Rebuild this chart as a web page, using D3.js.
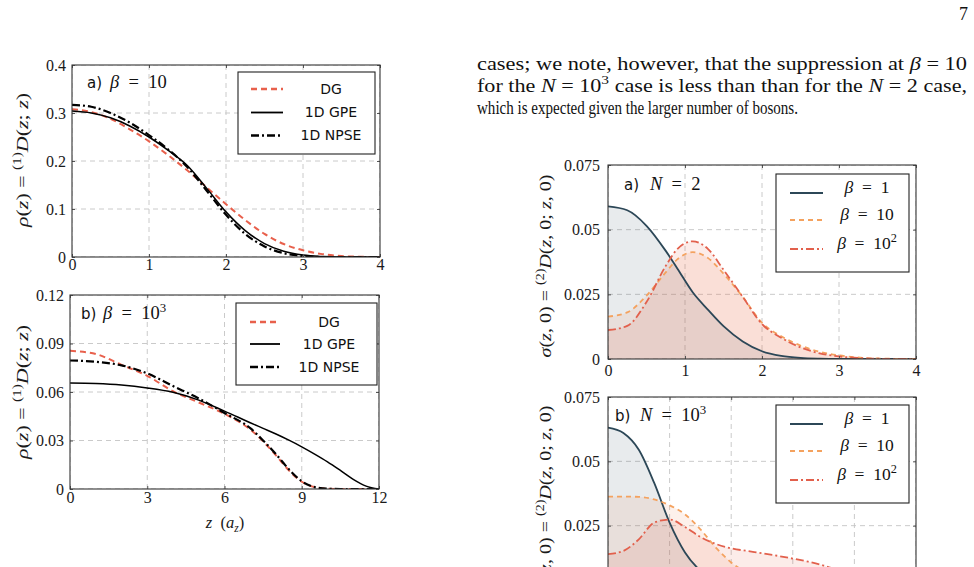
<!DOCTYPE html>
<html><head><meta charset="utf-8">
<script src="https://cdn.jsdelivr.net/npm/d3@7"></script>
<style>html,body{margin:0;padding:0;background:#fff;overflow:hidden}</style>
</head><body>
<svg id="page" width="974" height="567"></svg>
<script>
// ---------------- data ----------------
// Panel a) beta = 10 (left top)
const zA = [0,0.25,0.5,0.75,1,1.25,1.5,1.75,2,2.25,2.5,2.75,3,3.25,3.5,3.75,4];
const dgA   = [0.308,0.302,0.288,0.266,0.241,0.212,0.180,0.145,0.110,0.077,0.048,0.027,0.014,0.006,0.002,0.0005,0];
const gpeA  = [0.304,0.300,0.290,0.273,0.250,0.222,0.190,0.143,0.094,0.055,0.028,0.012,0.004,0.001,0,0,0];
const npseA = [0.317,0.313,0.300,0.280,0.254,0.224,0.187,0.138,0.088,0.048,0.022,0.008,0.002,0,0,0,0];
const xTicksA = [0,1,2,3,4];
const xLabelsA = ["0","1","2","3","4"];
const yTicksA = [0,0.1,0.2,0.3,0.4];
const yLabelsA = ["0","0.1","0.2","0.3","0.4"];

// Panel b) beta = 10^3 (left bottom)
const zB = [0,1,2,3,4,5,6,7,7.5,8,8.5,9,9.5,10,10.5,11,11.5,12];
const dgB   = [0.0855,0.0835,0.0768,0.0700,0.0605,0.0535,0.0465,0.0368,0.0295,0.0208,0.0115,0.0045,0.0012,0.0002,0,0,0,0];
const gpeB  = [0.0655,0.0652,0.0643,0.0625,0.0598,0.0550,0.0482,0.0410,0.0375,0.0340,0.0302,0.0261,0.0216,0.0168,0.0115,0.0060,0.0018,0];
const npseB = [0.0795,0.0787,0.0765,0.0715,0.0637,0.0560,0.0470,0.0376,0.0300,0.0215,0.0122,0.0048,0.0012,0.0002,0,0,0,0];
const xTicksB = [0,3,6,9,12];
const xLabelsB = ["0","3","6","9","12"];
const yTicksB = [0,0.03,0.06,0.09,0.12];
const yLabelsB = ["0","0.03","0.06","0.09","0.12"];

// Panel a) N = 2 (right top)
const zC = [0,0.25,0.5,0.75,0.9,1.1,1.3,1.5,1.75,2,2.25,2.5,2.75,3,3.25,3.5,4];
const b1C   = [0.0590,0.0575,0.0515,0.0418,0.0350,0.0258,0.0190,0.0127,0.0068,0.0030,0.0012,0.0004,0.0001,0,0,0,0];
const b10C  = [0.0164,0.0180,0.0245,0.0335,0.0385,0.0413,0.0390,0.0330,0.0240,0.0140,0.0088,0.0052,0.0028,0.0014,0.0006,0.0002,0];
const b100C = [0.0112,0.0128,0.0220,0.0360,0.0425,0.0455,0.0425,0.0345,0.0240,0.0135,0.0082,0.0045,0.0022,0.0010,0.0004,0.0001,0];
const xTicksC = [0,1,2,3,4];
const xLabelsC = ["0","1","2","3","4"];
const yTicksC = [0,0.025,0.05,0.075];
const yLabelsC = ["0","0.025","0.05","0.075"];

// Panel b) N = 10^3 (right bottom) -- its x axis lies below the visible page
const zD = [0,0.25,0.5,0.75,1,1.25,1.5,1.75,2,2.25,2.5,2.75,3,3.25,3.5,3.75,4,4.25,4.5,4.75,5];
const b1D   = [0.0631,0.0610,0.0545,0.0416,0.0262,0.0146,0.0075,0.0035,0.0015,0.0006,0.0002,0,0,0,0,0,0,0,0,0,0];
const b10D  = [0.0363,0.0363,0.0362,0.0352,0.0329,0.0294,0.0236,0.0165,0.0107,0.0068,0.0042,0.0025,0.0014,0.0008,0.0004,0.0002,0,0,0,0,0];
const b100D = [0.0139,0.0152,0.0197,0.0262,0.0274,0.0245,0.0206,0.0179,0.0162,0.0152,0.0143,0.0133,0.0122,0.0110,0.0095,0.0075,0.0050,0.0030,0.0015,0.0006,0.0002];
const xTicksD = [0,1,2,3,4,5];
const xLabelsD = ["","","","","",""];
const yTicksD = [0,0.025,0.05,0.075];
const yLabelsD = ["","0.025","0.05","0.075"];

const legendLeft = ["DG","1D GPE","1D NPSE"];

// ---------------- rendering ----------------
const SERIF = "'Liberation Serif','DejaVu Serif',serif";
const SANS = "'DejaVu Sans','Liberation Sans',sans-serif";
const svg = d3.select('#page');
svg.append('rect').attr('width',974).attr('height',567).attr('fill','#fff');

function rich(sel, segs, size) {
  let shift = 0;
  segs.forEach(([t, s]) => {
    const ts = sel.append('tspan').text(t);
    let target = 0;
    if (s === 'sup') target = -0.4 * size; else if (s === 'sub') target = 0.25 * size;
    ts.attr('dy', target - shift); shift = target;
    if (s === 'i' || s === 'sub') ts.attr('font-style', 'italic');
    if (s === 'sup' || s === 'sub') ts.attr('font-size', (size * 0.7).toFixed(1));
    if (s === 'sans') ts.attr('font-family', SANS);
  });
  return sel;
}

const STY = {
  dg:   {stroke:'#e8604c', w:2,   dash:'6,4'},
  gpe:  {stroke:'#000',    w:1.5, dash:null},
  npse: {stroke:'#000',    w:2.2, dash:'8,3,2,3'},
  b1:   {stroke:'#2c4757', w:1.8, dash:null, fill:'#2c4757'},
  b10:  {stroke:'#f4a25f', w:1.8, dash:'5,4', fill:'#f08a5d'},
  b100: {stroke:'#e2604c', w:1.8, dash:'8,3,2,3', fill:'#e8604c'}
};

let clipId = 0;
function panel(cfg) {
  const g = svg.append('g');
  const x = d3.scaleLinear().domain(cfg.xDom).range([cfg.x0, cfg.x1]);
  const y = d3.scaleLinear().domain(cfg.yDom).range([cfg.y1, cfg.y0]);
  const id = 'clip' + (clipId++);
  svg.append('clipPath').attr('id', id).append('rect')
    .attr('x', cfg.x0).attr('y', cfg.y0).attr('width', cfg.x1 - cfg.x0).attr('height', cfg.y1 - cfg.y0);
  const inner = g.append('g').attr('clip-path', `url(#${id})`);
  // grid
  inner.selectAll('.gx').data(cfg.xTicks).join('line')
    .attr('x1', d => x(d)).attr('x2', d => x(d)).attr('y1', cfg.y0).attr('y2', cfg.y1)
    .attr('stroke', '#c4c4c4').attr('stroke-width', 0.9).attr('stroke-dasharray', '5,4');
  inner.selectAll('.gy').data(cfg.yTicks).join('line')
    .attr('y1', d => y(d)).attr('y2', d => y(d)).attr('x1', cfg.x0).attr('x2', cfg.x1)
    .attr('stroke', '#c4c4c4').attr('stroke-width', 0.9).attr('stroke-dasharray', '5,4');
  // fills
  cfg.series.filter(s => STY[s.key].fill).forEach(s => {
    const area = d3.area().x((d, i) => x(cfg.z[i])).y0(y(0)).y1(d => y(d)).curve(d3.curveMonotoneX);
    inner.append('path').datum(s.values).attr('d', area)
      .attr('fill', STY[s.key].fill).attr('fill-opacity', s.key === 'b1' ? 0.11 : 0.12);
  });
  // lines
  cfg.series.forEach(s => {
    const st = STY[s.key];
    const line = d3.line().x((d, i) => x(cfg.z[i])).y(d => y(d)).curve(d3.curveMonotoneX);
    inner.append('path').datum(s.values).attr('d', line).attr('fill', 'none')
      .attr('stroke', st.stroke).attr('stroke-width', st.w)
      .attr('stroke-dasharray', st.dash).attr('stroke-linejoin', 'round');
  });
  // axes
  const axFont = ax => ax.attr('font-family', SERIF).attr('font-size', 16)
    .call(a => a.select('.domain').remove())
    .call(a => a.selectAll('.tick line').attr('stroke', '#555'))
    .call(a => a.selectAll('.tick text').attr('fill', '#1a1a1a'));
  g.append('g').attr('transform', `translate(0,${cfg.y1})`)
    .call(d3.axisBottom(x).tickValues(cfg.xTicks).tickFormat((d, i) => cfg.xLabels[i]).tickSizeInner(-3).tickSizeOuter(0).tickPadding(cfg.xPad))
    .call(axFont);
  g.append('g').attr('transform', `translate(${cfg.x0},0)`)
    .call(d3.axisLeft(y).tickValues(cfg.yTicks).tickFormat((d, i) => cfg.yLabels[i]).tickSizeInner(-3).tickSizeOuter(0).tickPadding(cfg.yPad))
    .call(axFont);
  g.append('g').attr('transform', `translate(0,${cfg.y0})`)
    .call(d3.axisTop(x).tickValues(cfg.xTicks).tickFormat('').tickSizeInner(-3).tickSizeOuter(0)).call(axFont);
  g.append('g').attr('transform', `translate(${cfg.x1},0)`)
    .call(d3.axisRight(y).tickValues(cfg.yTicks).tickFormat('').tickSizeInner(-3).tickSizeOuter(0)).call(axFont);
  // border
  g.append('rect').attr('x', cfg.x0).attr('y', cfg.y0).attr('width', cfg.x1 - cfg.x0).attr('height', cfg.y1 - cfg.y0)
    .attr('fill', 'none').attr('stroke', '#333').attr('stroke-width', 1.1);
  // panel label
  g.append('text').attr('x', cfg.lab.x).attr('y', cfg.lab.y).attr('font-family', SANS).attr('font-size', 15)
    .attr('fill', '#111').text(cfg.lab.tag);
  rich(g.append('text').attr('x', cfg.lab.mx).attr('y', cfg.lab.y).attr('font-family', SERIF).attr('font-size', 18.5)
    .attr('fill', '#111'), cfg.lab.math, 18.5);
  // y title
  rich(g.append('text').attr('transform', `translate(${cfg.yt.x},${cfg.yt.y}) rotate(-90)`)
    .attr('text-anchor', 'middle').attr('font-family', SERIF).attr('font-size', 17).attr('fill', '#1a1a1a')
    .attr('textLength', cfg.yt.w).attr('lengthAdjust', 'spacingAndGlyphs'), cfg.yt.segs, 17);
  // legend
  const L = cfg.leg;
  const lg = g.append('g');
  lg.append('rect').attr('x', L.x0).attr('y', L.y0).attr('width', L.x1 - L.x0).attr('height', L.y1 - L.y0)
    .attr('fill', '#fff').attr('stroke', '#222').attr('stroke-width', 1.1);
  cfg.series.forEach((s, i) => {
    const st = STY[s.key];
    const yy = L.rows[i];
    lg.append('line').attr('x1', L.sx0).attr('x2', L.sx1).attr('y1', yy).attr('y2', yy)
      .attr('stroke', st.stroke).attr('stroke-width', st.w + 0.3).attr('stroke-dasharray', st.dash);
    const t = lg.append('text').attr('x', L.tx).attr('y', yy).attr('dy', '0.35em').attr('text-anchor', 'middle')
      .attr('fill', '#111');
    if (L.serif) { t.attr('font-family', SERIF).attr('font-size', 17.5); rich(t, s.label, 17.5); }
    else { t.attr('font-family', SANS).attr('font-size', 14).text(s.label); }
  });
  return {x, y, g};
}

const rhoLabel = [['ρ','i'],['(','n'],['z','i'],[') = ','n'],['(1)','sup'],['D','i'],['(','n'],['z','i'],['; ','n'],['z','i'],[')','n']];
const sigLabel = [['σ','i'],['(','n'],['z','i'],[', 0) = ','n'],['(2)','sup'],['D','i'],['(','n'],['z','i'],[', 0; ','n'],['z','i'],[', 0)','n']];
const betaLeg = v => v === 1 ? [['β','i'],['\u2002=\u20021','n']] : v === 10 ? [['β','i'],['\u2002=\u200210','n']] : [['β','i'],['\u2002=\u200210','n'],['2','sup']];

panel({x0:72, x1:380, y0:65, y1:257, xDom:[0,4], yDom:[0,0.4], z:zA,
  xTicks:xTicksA, xLabels:xLabelsA, yTicks:yTicksA, yLabels:yLabelsA, xPad:2, yPad:6,
  series:[{key:'dg', values:dgA, label:legendLeft[0]},{key:'gpe', values:gpeA, label:legendLeft[1]},{key:'npse', values:npseA, label:legendLeft[2]}],
  lab:{x:87, mx:110, y:88, tag:'a)', math:[['β','i'],['\u2002=\u200210','n']]},
  yt:{x:28, y:160, w:134, segs:rhoLabel},
  leg:{x0:238, x1:375, y0:72, y1:154, rows:[89,112.5,135.5], sx0:251, sx1:283, tx:331, serif:false}});

panel({x0:70, x1:379, y0:295, y1:489, xDom:[0,12], yDom:[0,0.12], z:zB,
  xTicks:xTicksB, xLabels:xLabelsB, yTicks:yTicksB, yLabels:yLabelsB, xPad:3, yPad:6,
  series:[{key:'dg', values:dgB, label:legendLeft[0]},{key:'gpe', values:gpeB, label:legendLeft[1]},{key:'npse', values:npseB, label:legendLeft[2]}],
  lab:{x:81, mx:103, y:319, tag:'b)', math:[['β','i'],['\u2002=\u200210','n'],['3','sup']]},
  yt:{x:28, y:392, w:134, segs:rhoLabel},
  leg:{x0:236, x1:377, y0:303, y1:385, rows:[322,344,367], sx0:250, sx1:280, tx:329, serif:false}});

panel({x0:608, x1:916, y0:165, y1:359, xDom:[0,4], yDom:[0,0.075], z:zC,
  xTicks:xTicksC, xLabels:xLabelsC, yTicks:yTicksC, yLabels:yLabelsC, xPad:6, yPad:8,
  series:[{key:'b1', values:b1C, label:betaLeg(1)},{key:'b10', values:b10C, label:betaLeg(10)},{key:'b100', values:b100C, label:betaLeg(100)}],
  lab:{x:624, mx:650, y:190, tag:'a)', math:[['N','i'],['\u2002=\u20022','n']]},
  yt:{x:551, y:266, w:183, segs:sigLabel},
  leg:{x0:776, x1:909, y0:174, y1:272, rows:[193,220,249], sx0:790, sx1:823, tx:867, serif:true}});

panel({x0:608, x1:916, y0:397, y1:590, xDom:[0,5], yDom:[0,0.075], z:zD,
  xTicks:xTicksD, xLabels:xLabelsD, yTicks:yTicksD, yLabels:yLabelsD, xPad:6, yPad:8,
  series:[{key:'b1', values:b1D, label:betaLeg(1)},{key:'b10', values:b10D, label:betaLeg(10)},{key:'b100', values:b100D, label:betaLeg(100)}],
  lab:{x:615, mx:640, y:421, tag:'b)', math:[['N','i'],['\u2002=\u200210','n'],['3','sup']]},
  yt:{x:551, y:497, w:183, segs:sigLabel},
  leg:{x0:776, x1:909, y0:405, y1:503, rows:[424,451,480], sx0:790, sx1:823, tx:867, serif:true}});

// x-axis title of left-bottom panel
rich(svg.append('text').attr('x', 225).attr('y', 528).attr('text-anchor', 'middle')
  .attr('font-family', SERIF).attr('font-size', 16.5).attr('fill', '#1a1a1a'),
  [['z','i'],['\u2002(','n'],['a','i'],['z','sub'],[')','n']], 16.5);

// body text
const bodyLines = [
  {y:69.5, w:490, segs:[['cases; we note, however, that the suppression at ','n'],['β','i'],[' = 10','n']]},
  {y:91.5, w:490, segs:[['for the ','n'],['N','i'],[' = 10','n'],['3','sup'],[' case is less than than for the ','n'],['N','i'],[' = 2 case,','n']]},
  {y:113.5, w:321, segs:[['which is expected given the larger number of bosons.','n']]}
];
bodyLines.forEach(L => {
  const t = svg.append('text').attr('x', 477).attr('y', L.y).attr('font-family', SERIF).attr('font-size', 18)
    .attr('fill', '#111').attr('textLength', L.w).attr('lengthAdjust', 'spacingAndGlyphs');
  rich(t, L.segs, 18);
});
svg.append('text').attr('x', 968).attr('y', 20).attr('text-anchor', 'end').attr('font-family', SERIF)
  .attr('font-size', 18).attr('fill', '#111').text('7');
</script>
</body></html>
